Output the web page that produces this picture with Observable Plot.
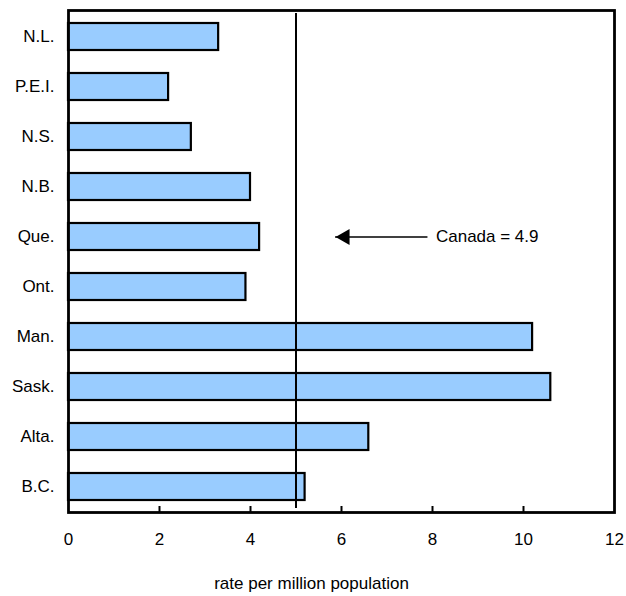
<!DOCTYPE html>
<html><head><meta charset="utf-8">
<script src="https://cdn.jsdelivr.net/npm/d3@7"></script>
<script src="https://cdn.jsdelivr.net/npm/@observablehq/plot@0.6"></script>
<style>body{margin:0;background:#fff}</style>
</head><body><div id="chart"></div>
<script>
const provinces = ["N.L.", "P.E.I.", "N.S.", "N.B.", "Que.", "Ont.", "Man.", "Sask.", "Alta.", "B.C."];
const rates = [3.3, 2.2, 2.7, 4.0, 4.2, 3.9, 10.2, 10.6, 6.6, 5.2];
const xTicks = [0, 2, 4, 6, 8, 10, 12];
const innerTicks = [2, 4, 6, 8, 10];
const canadaRate = 4.9;
const canadaLineAt = 5.0;
const canadaLabel = "Canada = " + canadaRate;
const annotationRow = "Que.";
const arrowTip = 5.87;
const arrowTail = 7.9;
const xLabel = "rate per million population";

const data = provinces.map((p, i) => ({prov: p, value: rates[i]}));
const font = "'Liberation Sans', Arial, Helvetica, sans-serif";

const chart = Plot.plot({
  width: 626,
  height: 596,
  marginLeft: 68,
  marginRight: 12,
  marginTop: 10,
  marginBottom: 84,
  style: {fontFamily: font, fontSize: "17px", color: "black", background: "white"},
  x: {domain: [0, 12], ticks: xTicks},
  y: {domain: provinces, paddingInner: 0.46, paddingOuter: 0.25},
  marks: [
    Plot.barX(data, {x: "value", y: "prov", fill: "#99ccff", stroke: "black", strokeWidth: 2.2}),
    Plot.ruleX([canadaLineAt], {stroke: "black", strokeWidth: 2, insetTop: 3, insetBottom: 4}),
    Plot.ruleY([annotationRow], {y: d => d, x1: arrowTip, x2: arrowTail, stroke: "black", strokeWidth: 1.5}),
    Plot.dot([annotationRow], {y: d => d, x: arrowTip, dx: 9.3, symbol: "triangle", rotate: -90, r: 6, fill: "black", stroke: "none"}),
    Plot.text([canadaLabel], {x: arrowTail, y: () => annotationRow, dx: 8, text: d => d, textAnchor: "start", fontSize: 17, fill: "black"}),
    Plot.axisX({ticks: xTicks, tickSize: 0, tickPadding: 20, label: null, fontSize: 17}),
    Plot.ruleX(innerTicks, {stroke: "black", strokeWidth: 2, insetTop: 496}),
    Plot.axisY({tickSize: 0, tickPadding: 14, label: null, fontSize: 17}),
    Plot.text([xLabel], {frameAnchor: "bottom", dy: 76, dx: -30, text: d => d, fontSize: 17, fill: "black"}),
    Plot.frame({stroke: "black", strokeWidth: 2.8})
  ]
});
document.getElementById("chart").appendChild(chart);
</script>
</body></html>
